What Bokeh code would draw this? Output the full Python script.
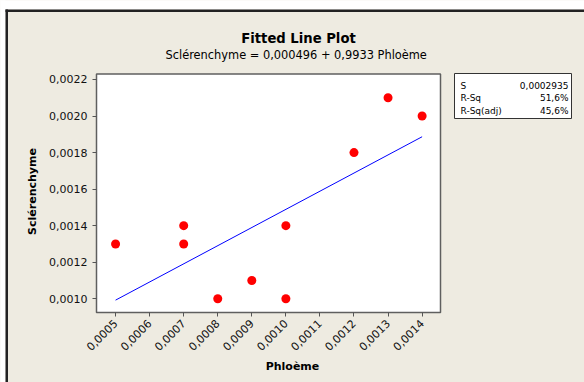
import math
import numpy as np
from bokeh.plotting import figure
from bokeh.models import (Range1d, FixedTicker, CustomJSTickFormatter, Label,
                          BoxAnnotation, ColumnDataSource)
from bokeh.embed import file_html
from bokeh.resources import INLINE

# Observations
phloeme = [0.0005, 0.0007, 0.0007, 0.0008, 0.0009, 0.0010, 0.0010, 0.0012, 0.0013, 0.0014]
sclerenchyme = [0.0013, 0.0014, 0.0013, 0.0010, 0.0011, 0.0014, 0.0010, 0.0018, 0.0021, 0.0020]

# Regression results
intercept = 0.000496
slope = 0.9933
stat_names = ["S", "R-Sq", "R-Sq(adj)"]
stat_values = ["0,0002935", "51,6%", "45,6%"]

x_ticks = [0.0005, 0.0006, 0.0007, 0.0008, 0.0009, 0.0010, 0.0011, 0.0012, 0.0013, 0.0014]
y_ticks = [0.0010, 0.0012, 0.0014, 0.0016, 0.0018, 0.0020, 0.0022]

# Axis limits of the data area
x_lo, x_hi = 0.000444, 0.001454
y_lo, y_hi = 0.000925, 0.00223

FONT = "DejaVu Sans"
BG = "#EEEBE1"
W, H = 584, 382
# Pixel box of the data area on the page (left, right, top, bottom)
BL, BR, BT, BB = 96, 440, 73.5, 312

# The plotting frame spans the whole page; the data area is a box inside it.
kx = (x_hi - x_lo) / (BR - BL)
ky = (y_hi - y_lo) / (BB - BT)
x0 = x_lo - BL * kx
y_top = y_hi + BT * ky
x_range = Range1d(x0, x_hi + (W - BR) * kx)
y_range = Range1d(y_lo - (H - BB) * ky, y_top)


def cx(px):
    """Page pixel column -> x value."""
    return x0 + px * kx


def cy(py):
    """Page pixel row (from top) -> y value."""
    return y_top - py * ky


p = figure(width=W, height=H, output_backend="svg", toolbar_location=None,
           x_range=x_range, y_range=y_range, min_border=0)
p.title.visible = False
p.border_fill_color = BG
p.background_fill_color = BG
p.outline_line_color = None
p.xgrid.visible = False
p.ygrid.visible = False

# White data area with grey outline
p.add_layout(BoxAnnotation(left=x_lo, right=x_hi, bottom=y_lo, top=y_hi, level="underlay",
                           fill_color="white", fill_alpha=1,
                           line_color="#5f5f5f", line_width=1.5, line_alpha=1))

fmt = CustomJSTickFormatter(code="return tick.toFixed(4).replace('.', ',');")
for ax, ticks, loc in ((p.xaxis[0], x_ticks, y_lo), (p.yaxis[0], y_ticks, x_lo)):
    ax.fixed_location = loc
    ax.ticker = FixedTicker(ticks=ticks)
    ax.formatter = fmt
    ax.minor_tick_line_color = None
    ax.major_tick_in = 0
    ax.major_tick_out = 4
    ax.major_tick_line_color = "#555555"
    ax.axis_line_color = None
    ax.major_label_text_font = FONT
    ax.major_label_text_font_size = "11px"
    ax.major_label_text_color = "#111111"
    ax.axis_label_text_font = FONT
    ax.axis_label_text_font_size = "11px"
    ax.axis_label_text_font_style = "bold"
    ax.axis_label_text_color = "#000000"

p.xaxis.axis_label = "Phloème"
p.xaxis.axis_label_standoff = 3
p.xaxis.major_label_orientation = math.pi / 4
p.yaxis.axis_label = "Sclérenchyme"
p.yaxis.axis_label_standoff = 7

# Outer frame: white margin outside, dark border along the top and left edges
p.quad(left=[cx(-20), cx(-20)], right=[cx(W + 20), cx(5)],
       top=[cy(-20), cy(-20)], bottom=[cy(9), cy(H + 20)],
       fill_color="white", line_color=None)
p.line([cx(5), cx(W + 20)], [cy(10.25), cy(10.25)], line_color="#222222", line_width=2.5)
p.line([cx(6.25), cx(6.25)], [cy(9), cy(H + 20)], line_color="#222222", line_width=2.5)

# Fitted line from the regression coefficients
xs = np.array([min(phloeme), max(phloeme)])
p.line(xs, intercept + slope * xs, line_color="#0000FF", line_width=1)

src = ColumnDataSource(dict(x=phloeme, y=sclerenchyme))
p.scatter("x", "y", source=src, size=9, fill_color="#FF0000", line_color=None)


def clabel(x, y, text, size, align="left", style="normal"):
    return Label(x=x, y=y, x_units="canvas", y_units="canvas", text=text,
                 text_font=FONT, text_font_size=size, text_font_style=style,
                 text_align=align, text_baseline="middle", text_color="black")


# Titles
p.add_layout(clabel(298, 38, "Fitted Line Plot", "13.2px", "center", "bold"))
p.add_layout(clabel(297.5, 54, "Sclérenchyme =  0,000496 + 0,9933 Phloème", "11.4px", "center"))

# Statistics box
p.add_layout(BoxAnnotation(left=454, right=571, top=73, bottom=118,
                           left_units="canvas", right_units="canvas",
                           top_units="canvas", bottom_units="canvas",
                           fill_color="white", fill_alpha=1,
                           line_color="#333333", line_width=1, line_alpha=1))
for i, (name, val) in enumerate(zip(stat_names, stat_values)):
    yy = 85 + i * 12.5
    p.add_layout(clabel(460, yy, name, "9px", "left"))
    p.add_layout(clabel(568, yy, val, "9px", "right"))

open("out.html", "w").write(file_html(p, INLINE))
